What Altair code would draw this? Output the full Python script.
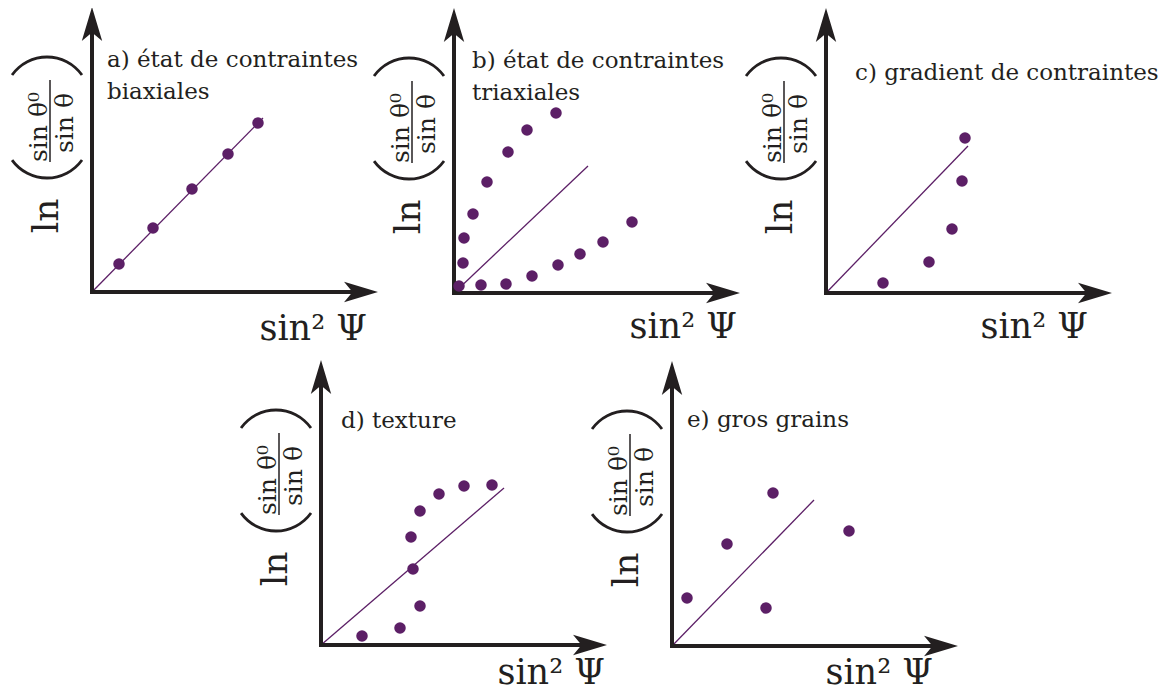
import altair as alt
import pandas as pd

# ---------------- data (local units: px from each panel origin, y up)
A_X = [27, 61, 100, 136, 166]
A_Y = [28, 64, 103, 138, 169]
B_UP_X = [5, 9, 10, 19, 33, 54, 73, 102]
B_UP_Y = [7, 30, 55, 79, 111, 141, 163, 180]
B_LOW_X = [27, 52, 78, 104, 126, 149, 178]
B_LOW_Y = [8, 9, 17, 28, 39, 51, 71]
C_X = [57, 103, 126, 136, 139]
C_Y = [10, 31, 64, 112, 155]
D_X = [41, 79, 99, 92, 90, 99, 118, 143, 171]
D_Y = [9, 17, 39, 76, 108, 134, 151, 159, 160]
E_X = [15, 55, 101, 94, 177]
E_Y = [48, 102, 153, 38, 115]
# reference straight line of each panel: from origin to this end point
FIT_END_X = [171, 134, 142, 183, 142]
FIT_END_Y = [174, 127, 147, 157, 146]

PANEL_IDS = ["a", "b", "c", "d", "e"]
CAPTIONS = [
    ["a) état de contraintes", "biaxiales"],
    ["b) état de contraintes", "triaxiales"],
    ["c) gradient de contraintes"],
    ["d) texture"],
    ["e) gros grains"],
]
X_TITLE = "sin² Ψ"
Y_TITLE_LN = "ln"
Y_TITLE_NUM = "sin θ⁰"
Y_TITLE_DEN = "sin θ"

# ---------------- layout / style
W, H = 1158, 684
ORIGINS = {"a": (92, 292), "b": (454, 293), "c": (826, 293), "d": (321, 645), "e": (672, 646)}
AX_LEN_X, AX_LEN_Y = 286, 285
CAPTION_POS = {"a": (15, 225), "b": (18, 225), "c": (29, 213), "d": (20, 217), "e": (15, 219)}
CAPTION_LEAD = 32
XLAB_POS = {"a": (275, -48), "b": (283, -45), "c": (262, -45), "d": (284, -39), "e": (261, -38)}
INK = "#231f20"
PURPLE = "#5c1f66"
FONT = "DejaVu Serif"


def g(pid, lx, ly):
    ox, oy = ORIGINS[pid]
    return ox - 8 + lx, 692 - oy + ly


series = {
    "a": [(A_X, A_Y)],
    "b": [(B_UP_X, B_UP_Y), (B_LOW_X, B_LOW_Y)],
    "c": [(C_X, C_Y)],
    "d": [(D_X, D_Y)],
    "e": [(E_X, E_Y)],
}

pts, fits, shafts, heads_up, heads_right = [], [], [], [], []
caps, xlabs, ytexts, bars, arcs_top, arcs_bot = [], [], [], [], [], []
for i, pid in enumerate(PANEL_IDS):
    for xs, ys in series[pid]:
        for lx, ly in zip(xs, ys):
            x, y = g(pid, lx, ly)
            pts.append({"x": x, "y": y, "panel": pid})
    x0, y0 = g(pid, 0, 0)
    x1, y1 = g(pid, FIT_END_X[i], FIT_END_Y[i])
    fits.append({"x": x0, "y": y0, "x2": x1, "y2": y1})
    xa, ya = g(pid, 0, AX_LEN_Y - 22)
    shafts.append({"x": x0, "y": y0, "x2": xa, "y2": ya})
    xb, yb = g(pid, AX_LEN_X - 22, 0)
    shafts.append({"x": x0, "y": y0, "x2": xb, "y2": yb})
    hx, hy = g(pid, 0, AX_LEN_Y)
    heads_up.append({"x": hx, "y": hy})
    hx, hy = g(pid, AX_LEN_X, 0)
    heads_right.append({"x": hx, "y": hy})
    cx, cy = CAPTION_POS[pid]
    for k, line in enumerate(CAPTIONS[i]):
        x, y = g(pid, cx, cy - k * CAPTION_LEAD)
        caps.append({"x": x, "y": y, "text": line})
    lx, ly = XLAB_POS[pid]
    x, y = g(pid, lx, ly)
    xlabs.append({"x": x, "y": y, "text": X_TITLE})
    for txt, lx, ly, fs in [(Y_TITLE_LN, -34, 76, 36), (Y_TITLE_NUM, -45, 165, 25), (Y_TITLE_DEN, -19, 169, 25)]:
        x, y = g(pid, lx, ly)
        ytexts.append({"x": x, "y": y, "text": txt, "fs": fs})
    bx, by = g(pid, -42, 130)
    bx2, by2 = g(pid, -42, 212)
    bars.append({"x": bx, "y": by, "x2": bx2, "y2": by2})
    x, y = g(pid, -45, 192)
    arcs_top.append({"x": x, "y": y})
    x, y = g(pid, -45, 157)
    arcs_bot.append({"x": x, "y": y})

SX = alt.Scale(domain=[0, W], nice=False, zero=False)
SY = alt.Scale(domain=[0, H], nice=False, zero=False)
X = alt.X("x:Q", scale=SX, axis=None)
Y = alt.Y("y:Q", scale=SY, axis=None)

df = pd.DataFrame
fit_layer = alt.Chart(df(fits)).mark_rule(color=PURPLE, strokeWidth=1.3).encode(
    x=X, y=Y, x2="x2:Q", y2="y2:Q")
shaft_layer = alt.Chart(df(shafts)).mark_rule(color=INK, strokeWidth=4, strokeCap="square").encode(
    x=X, y=Y, x2="x2:Q", y2="y2:Q")
up_layer = alt.Chart(df(heads_up)).mark_point(
    shape="M0,0 L-0.6,2 L0,1.5 L0.6,2 Z", size=1156, filled=True, color=INK, opacity=1, strokeWidth=0
).encode(x=X, y=Y)
right_layer = alt.Chart(df(heads_right)).mark_point(
    shape="M0,0 L-2,-0.6 L-1.5,0 L-2,0.6 Z", size=1156, filled=True, color=INK, opacity=1, strokeWidth=0
).encode(x=X, y=Y)
pt_layer = alt.Chart(df(pts)).mark_circle(size=133, color=PURPLE, opacity=1).encode(x=X, y=Y)
cap_layer = alt.Chart(df(caps)).mark_text(
    font=FONT, fontSize=23, align="left", baseline="alphabetic", color=INK).encode(x=X, y=Y, text="text:N")
xlab_layer = alt.Chart(df(xlabs)).mark_text(
    font=FONT, fontSize=35, align="right", baseline="alphabetic", color=INK).encode(x=X, y=Y, text="text:N")
ytext_layer = alt.Chart(df(ytexts)).mark_text(
    font=FONT, angle=270, align="center", baseline="alphabetic", color=INK).encode(
    x=X, y=Y, text="text:N", size=alt.Size("fs:Q", scale=None, legend=None))
bar_layer = alt.Chart(df(bars)).mark_rule(color=INK, strokeWidth=1.5).encode(
    x=X, y=Y, x2="x2:Q", y2="y2:Q")
arc_top_layer = alt.Chart(df(arcs_top)).mark_arc(
    theta=5.333, theta2=7.233, radius=44.4, radius2=41.6, color=INK).encode(x=X, y=Y)
arc_bot_layer = alt.Chart(df(arcs_bot)).mark_arc(
    theta=2.19, theta2=4.09, radius=44.4, radius2=41.6, color=INK).encode(x=X, y=Y)

chart = alt.layer(
    fit_layer, shaft_layer, up_layer, right_layer, pt_layer, cap_layer, xlab_layer,
    ytext_layer, bar_layer, arc_top_layer, arc_bot_layer
).properties(
    width=W, height=H, autosize=alt.AutoSizeParams(type="none"), padding=0
).configure_view(stroke=None)

chart.save("out.html", embed_options={"renderer": "svg", "actions": False})
